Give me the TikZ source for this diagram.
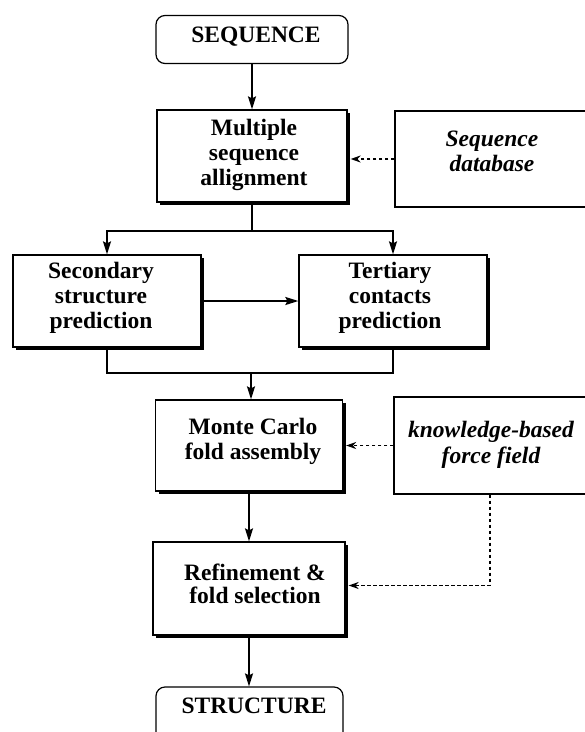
\documentclass[tikz,border=0pt]{standalone}
\usepackage{fontspec}
\setmainfont{Liberation Serif}
\usetikzlibrary{arrows.meta,shadows}
\begin{document}
\begin{tikzpicture}[x=1pt,y=-1pt,
  box/.style={draw=black, line width=1.3pt, fill=white, inner sep=0pt,
    drop shadow={shadow xshift=3pt, shadow yshift=-3pt, opacity=1, fill=black}},
  term/.style={draw=black, line width=1.2pt, rounded corners=9pt, fill=white, inner sep=0pt},
  src/.style={draw=black, line width=1.1pt, fill=white, inner sep=0pt},
  txt/.style={inner sep=0pt, align=center, anchor=base, font=\fontsize{23.5}{25}\selectfont\bfseries},
  itxt/.style={txt, font=\fontsize{23.5}{25.5}\selectfont\bfseries\itshape},
  arr/.style={line width=1.6pt, -{Stealth[length=13pt,width=8pt,inset=2pt]}},
  darr/.style={line width=1.5pt, dash pattern=on 3.5pt off 2.5pt, -{Stealth[length=10pt,width=7pt]}},
  ln/.style={line width=1.6pt}
]
\useasboundingbox (0,0) rectangle (585,732);
\clip (0,0) rectangle (585,732);

\node[term, minimum width=192pt, minimum height=48pt] (seq) at (252,39.5) {};
\node[txt] (seqt) at (256,42) {SEQUENCE};

\node[box, minimum width=190pt, minimum height=92pt] (msa) at (252,156) {};
\node[txt] (msat) at (254,185) {Multiple\\sequence\\allignment};

\node[src, minimum width=195pt, minimum height=96pt] (db) at (492.5,159) {};
\node[itxt] (dbt) at (492,171.5) {Sequence\\database};

\node[box, minimum width=188pt, minimum height=92pt] (sec) at (107,301) {};
\node[txt] (sect) at (101,328) {Secondary\\structure\\prediction};

\node[box, minimum width=188pt, minimum height=92pt] (ter) at (393,301) {};
\node[txt] (tert) at (390,328) {Tertiary\\contacts\\prediction};

\node[box, minimum width=187pt, minimum height=91pt] (mc) at (249,445.5) {};
\node[txt] (mct) at (253,459) {Monte Carlo\\fold assembly};

\node[src, minimum width=196pt, minimum height=97pt] (kb) at (492,445.5) {};
\node[itxt] (kbt) at (491,463) {knowledge-based\\force field};

\node[box, minimum width=192pt, minimum height=93pt] (ref) at (249,588.5) {};
\node[txt, font=\fontsize{23.5}{22.5}\selectfont\bfseries] (reft) at (255,603) {Refinement \&\\fold selection};

\node[term, minimum width=187pt, minimum height=70pt] (str) at (249.5,722) {};
\node[txt] (strt) at (254,713) {STRUCTURE};

\coordinate (split) at (252,231);
\coordinate (join) at (251,373);

\draw[arr] (seq.south) -- (msa.north);
\draw[ln] (msa.south) -- (split);
\draw[arr] (split) -| (sec.north);
\draw[arr] (split) -| (ter.north);
\draw[arr] (sec.east) -- (ter.west);
\draw[ln] (sec.south) |- (join) -| (ter.south);
\draw[arr] (join) -- (join |- mc.north);
\draw[arr] (mc.south) -- (mc.south |- ref.north);
\draw[arr] (ref.south) -- (ref.south |- str.north);
\draw[darr, shorten >=3pt] (db.west) -- (db.west -| msa.east);
\draw[darr, shorten >=3pt] (kb.west) -- (kb.west -| mc.east);
\draw[darr, shorten >=3pt] ([xshift=-2pt]kb.south) |- ([yshift=3pt]ref.east);
\end{tikzpicture}
\end{document}
